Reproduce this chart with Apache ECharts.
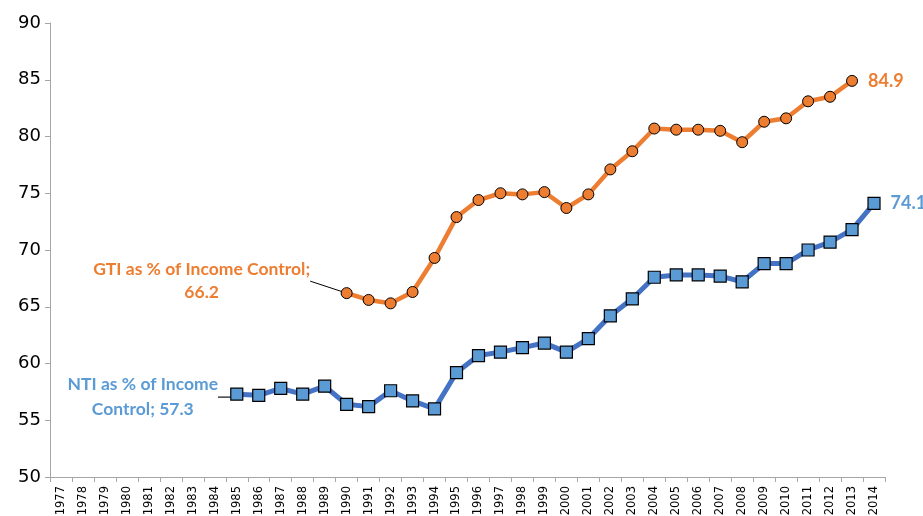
<!DOCTYPE html>
<html>
<head>
<meta charset="utf-8">
<script src="https://cdn.jsdelivr.net/npm/echarts@6/dist/echarts.min.js"></script>
<style>
html,body{margin:0;padding:0;background:#fff;}
#chart{width:923px;height:516px;}
</style>
</head>
<body>
<div id="chart"></div>
<script>
var years = ['1977','1978','1979','1980','1981','1982','1983','1984','1985','1986','1987','1988','1989','1990','1991','1992','1993','1994','1995','1996','1997','1998','1999','2000','2001','2002','2003','2004','2005','2006','2007','2008','2009','2010','2011','2012','2013','2014'];
// GTI as % of Income Control, 1990-2013
var gtiStart = '1990';
var gtiValues = [66.2,65.6,65.3,66.3,69.3,72.9,74.4,75.0,74.9,75.1,73.7,74.9,77.1,78.7,80.7,80.6,80.6,80.5,79.5,81.3,81.6,83.1,83.5,84.9];
// NTI as % of Income Control, 1985-2014
var ntiStart = '1985';
var ntiValues = [57.3,57.2,57.8,57.3,58.0,56.4,56.2,57.6,56.7,56.0,59.2,60.7,61.0,61.4,61.8,61.0,62.2,64.2,65.7,67.6,67.8,67.8,67.7,67.2,68.8,68.8,70.0,70.7,71.8,74.1];
var gtiName = 'GTI as % of Income Control';
var ntiName = 'NTI as % of Income Control';

var ORANGE = '#ED7D31', BLUE_LINE = '#4472C4', BLUE = '#5B9BD5';
var FONT = 'Lato';
var AXFONT = 'DejaVu Sans';

function buildData(start, values) {
  var s = years.indexOf(start);
  return years.map(function (y, i) {
    var k = i - s;
    return (k >= 0 && k < values.length) ? values[k] : null;
  });
}
var gtiFirst = years.indexOf(gtiStart), gtiLast = gtiFirst + gtiValues.length - 1;
var ntiFirst = years.indexOf(ntiStart), ntiLast = ntiFirst + ntiValues.length - 1;

var gtiData = buildData(gtiStart, gtiValues).map(function (v, i) {
  if (v === null) return v;
  if (i === gtiFirst) {
    return { value: v,
      label: { show: true, position: 'inside', formatter: gtiName + ';\n' + v.toFixed(1),
        color: ORANGE, fontWeight: 'bold', fontSize: 17.5, fontFamily: FONT, lineHeight: 23, align: 'center' },
      labelLine: { show: true, lineStyle: { color: '#000', width: 1 } } };
  }
  if (i === gtiLast) {
    return { value: v,
      label: { show: true, position: 'right', distance: 10, formatter: v.toFixed(1),
        color: ORANGE, fontWeight: 'bold', fontSize: 18, fontFamily: FONT } };
  }
  return v;
});
var ntiData = buildData(ntiStart, ntiValues).map(function (v, i) {
  if (v === null) return v;
  if (i === ntiFirst) {
    return { value: v,
      label: { show: true, position: 'inside', formatter: 'NTI as % of Income\nControl; ' + v.toFixed(1),
        color: BLUE, fontWeight: 'bold', fontSize: 17.5, fontFamily: FONT, lineHeight: 25, align: 'center' },
      labelLine: { show: true, lineStyle: { color: '#404040', width: 1.5 } } };
  }
  if (i === ntiLast) {
    return { value: v,
      label: { show: true, position: 'right', distance: 10, formatter: v.toFixed(1),
        color: BLUE, fontWeight: 'bold', fontSize: 18, fontFamily: FONT } };
  }
  return v;
});

var chart = echarts.init(document.getElementById('chart'));
chart.setOption({
  animation: false,
  backgroundColor: '#fff',
  grid: { left: 50, right: 38, top: 23, bottom: 39, containLabel: false, outerBoundsMode: 'none' },
  xAxis: {
    type: 'category',
    data: years,
    boundaryGap: true,
    axisLine: { lineStyle: { color: '#A6A6A6', width: 1 } },
    axisTick: { show: true, length: 5, interval: 0, lineStyle: { color: '#A6A6A6' } },
    axisLabel: { interval: 0, rotate: 90, fontSize: 11.5, fontFamily: AXFONT, color: '#000', margin: 9 },
    splitLine: { show: false }
  },
  yAxis: {
    type: 'value',
    min: 50, max: 90, interval: 5,
    axisLine: { show: true, lineStyle: { color: '#A6A6A6', width: 1 } },
    axisTick: { show: true, length: 5, lineStyle: { color: '#A6A6A6' } },
    axisLabel: { fontSize: 18, fontFamily: AXFONT, color: '#000', margin: 9 },
    splitLine: { show: false }
  },
  series: [
    {
      name: gtiName, type: 'line', data: gtiData,
      symbol: 'circle', symbolSize: 11,
      lineStyle: { color: ORANGE, width: 4.5 },
      itemStyle: { color: ORANGE, borderColor: '#000', borderWidth: 1 },
      labelLayout: function (p) {
        if (p.dataIndex === gtiFirst) return { dx: -145, dy: -12 };
        return {};
      },
      z: 3
    },
    {
      name: ntiName, type: 'line', data: ntiData,
      symbol: 'rect', symbolSize: 12,
      lineStyle: { color: BLUE_LINE, width: 5 },
      itemStyle: { color: BLUE, borderColor: '#000', borderWidth: 1.2 },
      labelLayout: function (p) {
        if (p.dataIndex === ntiFirst) return { dx: -94, dy: 3 };
        return {};
      },
      z: 2
    }
  ]
});
</script>
</body>
</html>
